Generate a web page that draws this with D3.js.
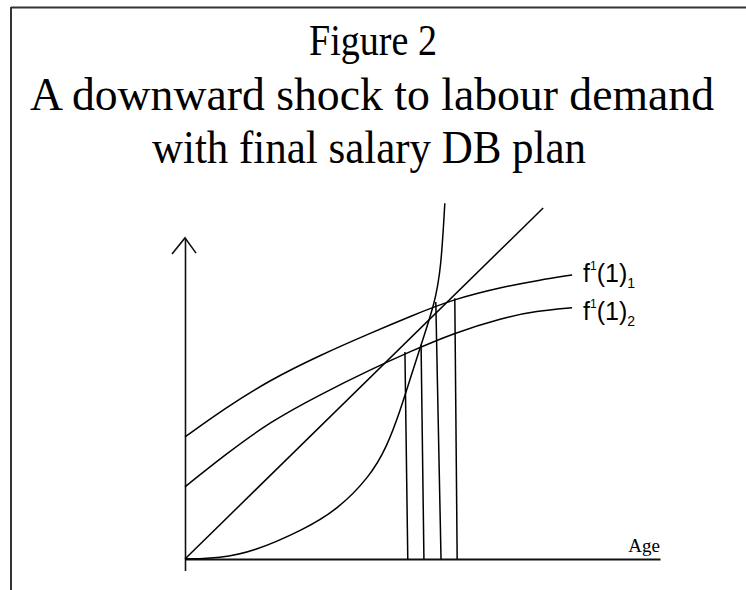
<!DOCTYPE html>
<html>
<head>
<meta charset="utf-8">
<script src="https://cdn.jsdelivr.net/npm/d3@7"></script>
<style>
  html, body { margin: 0; padding: 0; background: #fff; }
  svg { display: block; }
</style>
</head>
<body>
<svg id="chart" width="746" height="590"></svg>
<script>
// Title lines
const titleLines = ["Figure 2", "A downward shock to labour demand", "with final salary DB plan"];

// Curves as [age, value] pairs
const marginalProduct1 = [[0, 25.7], [8.5, 31.8], [17.9, 37.7], [28.4, 42.9], [38.9, 47.5], [47.7, 51.2], [56.5, 54.7], [67.0, 57.3], [74.5, 58.7], [81.5, 59.8]];
const marginalProduct2 = [[0, 15.2], [8.5, 22.0], [17.9, 28.9], [28.4, 34.6], [38.9, 39.8], [47.7, 43.8], [56.4, 47.5], [66.9, 50.8], [74.0, 52.2], [81.5, 52.9]];
const diagonal = [[0, 0], [75.4, 73.9]];
const pensionCost = [[0, 0], [7.4, 0.2], [14.3, 1.5], [24.8, 6.1], [32.0, 10.3], [38.9, 17.3], [42.5, 23.6], [45.3, 31.2], [47.4, 37.9], [49.7, 45.1], [52.6, 53.9], [53.9, 61.1], [54.7, 74.9]];

// Drop lines from crossings down to the age axis: [age at top, value at top, age at base]
const dropLines = [[46.3, 43.6, 46.9], [49.7, 45.1, 50.3], [52.8, 54.1, 53.9], [56.8, 54.9, 57.3]];

// Curve labels
const curveLabels = [
  { base: "f", sup: "1", mid: "(1)", sub: "1", at: [83.8, 58.4] },
  { base: "f", sup: "1", mid: "(1)", sub: "2", at: [83.8, 50.3] }
];
const axisLabel = "Age";

const svg = d3.select("#chart");
const x = d3.scaleLinear().domain([0, 100]).range([185, 660]);
const y = d3.scaleLinear().domain([0, 100]).range([559, 84]);

// Frame
svg.append("line").attr("x1", 11).attr("y1", 7.5).attr("x2", 746).attr("y2", 7.5)
  .attr("stroke", "#333").attr("stroke-width", 2);
svg.append("line").attr("x1", 11).attr("y1", 7).attr("x2", 11).attr("y2", 590)
  .attr("stroke", "#333").attr("stroke-width", 2);

// Title
const titleBaselines = [55, 110, 163];
const titleCenters = [373, 372, 369];
const titleWidths = [128, 684, 434];
svg.selectAll("text.title").data(titleLines).join("text")
  .attr("class", "title")
  .attr("x", (d, i) => titleCenters[i]).attr("y", (d, i) => titleBaselines[i])
  .attr("text-anchor", "middle")
  .attr("font-family", "'Liberation Serif', 'Times New Roman', serif")
  .attr("font-size", (d, i) => i === 0 ? 44 : 46)
  .attr("textLength", (d, i) => titleWidths[i])
  .attr("lengthAdjust", "spacingAndGlyphs")
  .attr("fill", "#000")
  .text(d => d);

// Axes
const g = svg.append("g");
g.append("g").attr("transform", `translate(0,${y(0)})`)
  .call(d3.axisBottom(x).tickValues([]).tickSizeOuter(0))
  .call(s => s.select(".domain").attr("stroke", "#111").attr("stroke-width", 2));
const yAxisScale = d3.scaleLinear().domain([-2.4, 67.6]).range([y(-2.4), y(67.6)]);
g.append("g").attr("transform", `translate(${x(0)},0)`)
  .call(d3.axisLeft(yAxisScale).tickValues([]).tickSizeOuter(0))
  .call(s => s.select(".domain").attr("stroke", "#111").attr("stroke-width", 1.6));
// Arrowhead on the value axis
g.append("path")
  .attr("d", `M${x(0) - 13},${y(64.2)} L${x(0)},${y(67.6)} L${x(0) + 11},${y(64.4)}`)
  .attr("fill", "none").attr("stroke", "#111").attr("stroke-width", 1.6);

const line = d3.line().x(d => x(d[0])).y(d => y(d[1])).curve(d3.curveBasis);
const straight = d3.line().x(d => x(d[0])).y(d => y(d[1]));

[marginalProduct1, marginalProduct2, pensionCost].forEach(data => {
  g.append("path").datum(data).attr("d", line)
    .attr("fill", "none").attr("stroke", "#000").attr("stroke-width", 1.5);
});
g.append("path").datum(diagonal).attr("d", straight)
  .attr("fill", "none").attr("stroke", "#000").attr("stroke-width", 1.5);

g.selectAll("line.drop").data(dropLines).join("line")
  .attr("class", "drop")
  .attr("x1", d => x(d[0])).attr("y1", d => y(d[1]))
  .attr("x2", d => x(d[2])).attr("y2", y(0))
  .attr("stroke", "#000").attr("stroke-width", 1.5);

// Curve labels with super/subscripts
curveLabels.forEach(l => {
  const t = g.append("text")
    .attr("x", x(l.at[0])).attr("y", y(l.at[1]))
    .attr("font-family", "'Liberation Sans', Arial, sans-serif")
    .attr("font-size", 25).attr("fill", "#000");
  t.append("tspan").text(l.base);
  t.append("tspan").attr("font-size", 12).attr("dy", -12).text(l.sup);
  t.append("tspan").attr("dy", 12).text(l.mid);
  t.append("tspan").attr("font-size", 14).attr("dy", 6).text(l.sub);
});

// Axis label
g.append("text")
  .attr("x", 660).attr("y", 552)
  .attr("text-anchor", "end")
  .attr("font-family", "'Liberation Serif', 'Times New Roman', serif")
  .attr("font-size", 19).attr("fill", "#000")
  .text(axisLabel);
</script>
</body>
</html>
